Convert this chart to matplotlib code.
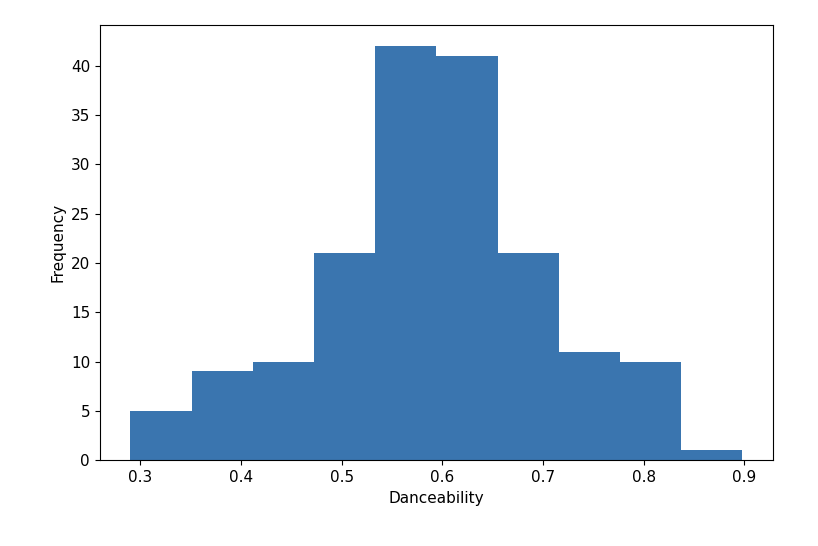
import matplotlib
matplotlib.use("Agg")
import matplotlib.pyplot as plt
import numpy as np

bin_edges = [0.290, 0.351, 0.412, 0.472, 0.533, 0.594, 0.655, 0.716, 0.776, 0.837, 0.898]
counts = [5, 9, 10, 21, 42, 41, 21, 11, 10, 1]

fig = plt.figure(figsize=(8.18, 5.46), dpi=100)
ax = fig.add_axes([0.122, 0.157, 0.823, 0.797])
centers = [(a + b) / 2 for a, b in zip(bin_edges[:-1], bin_edges[1:])]
ax.hist(centers, bins=bin_edges, weights=counts, color="#3a75af")
ax.set_xlabel("Danceability", fontsize=11)
ax.set_ylabel("Frequency", fontsize=11)
ax.tick_params(labelsize=11)
fig.savefig("out.png", dpi=100)
